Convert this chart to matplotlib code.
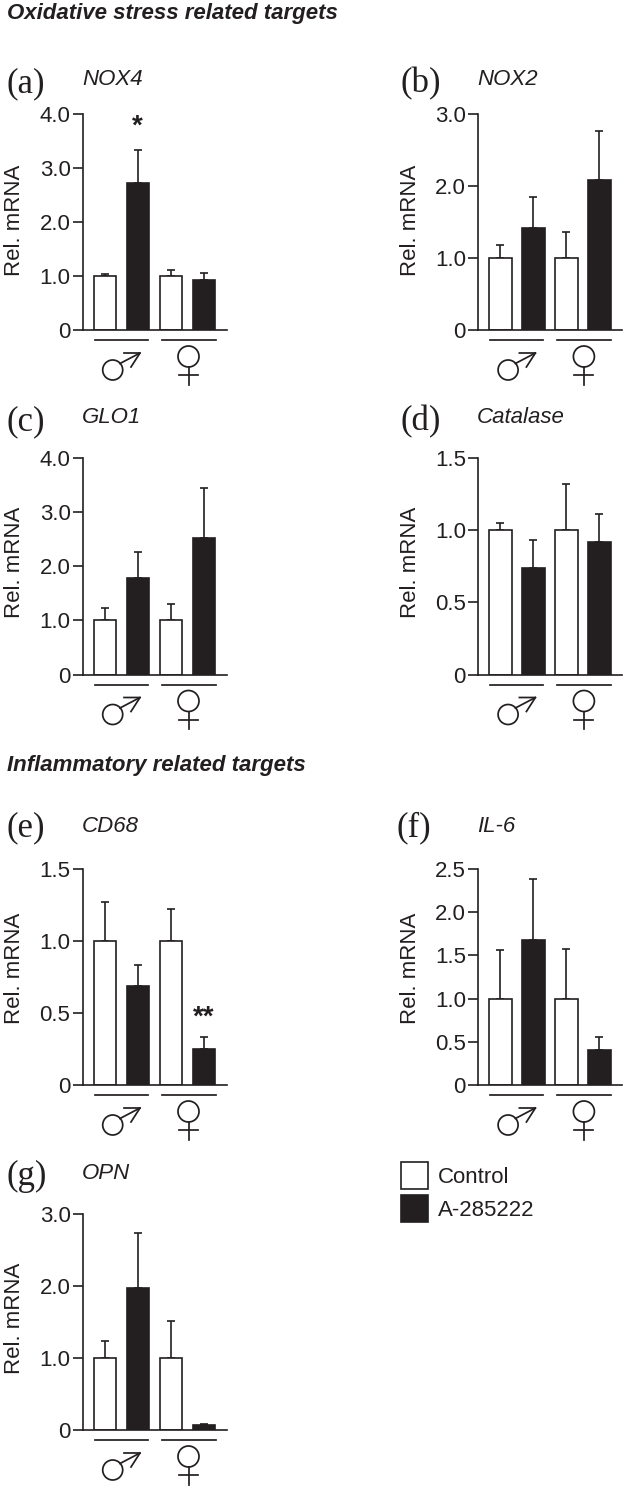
import matplotlib
matplotlib.use("Agg")
import matplotlib.pyplot as plt
from matplotlib.patches import Circle, Patch

W, H = 626, 1488
INK = "#231f20"
plt.rcParams["font.family"] = ["Liberation Sans", "DejaVu Sans"]

# Data
panel_ids = ["(a)", "(b)", "(c)", "(d)", "(e)", "(f)", "(g)"]
genes = ["NOX4", "NOX2", "GLO1", "Catalase", "CD68", "IL-6", "OPN"]
means_a = [1.00, 2.73, 1.00, 0.92]
means_b = [1.00, 1.41, 1.00, 2.08]
means_c = [1.00, 1.78, 1.00, 2.53]
means_d = [1.00, 0.74, 1.00, 0.92]
means_e = [1.00, 0.69, 1.00, 0.25]
means_f = [1.00, 1.68, 1.00, 0.40]
means_g = [1.00, 1.97, 1.00, 0.07]
upper_a = [1.04, 3.33, 1.12, 1.06]
upper_b = [1.18, 1.85, 1.36, 2.77]
upper_c = [1.22, 2.26, 1.30, 3.45]
upper_d = [1.05, 0.93, 1.32, 1.11]
upper_e = [1.27, 0.83, 1.22, 0.33]
upper_f = [1.56, 2.38, 1.57, 0.56]
upper_g = [1.23, 2.74, 1.52, 0.09]
ticks_a = ["0", "1.0", "2.0", "3.0", "4.0"]
ticks_b = ["0", "1.0", "2.0", "3.0"]
ticks_d = ["0", "0.5", "1.0", "1.5"]
ticks_f = ["0", "0.5", "1.0", "1.5", "2.0", "2.5"]
series = ["Control", "A-285222"]

fig = plt.figure(figsize=(W / 100, H / 100), dpi=100, facecolor="white")
deco = fig.add_axes([0, 0, 1, 1], zorder=5)
deco.set_xlim(0, W)
deco.set_ylim(H, 0)
deco.axis("off")

# panel layout: left spine px, baseline px, top tick px
layout = [
    (83, 330, 114, means_a, upper_a, ticks_a),
    (478.4, 330, 114, means_b, upper_b, ticks_b),
    (83, 674.5, 458, means_c, upper_c, ticks_a),
    (478.4, 674.5, 458, means_d, upper_d, ticks_d),
    (83, 1085, 869, means_e, upper_e, ticks_d),
    (478.4, 1085, 869, means_f, upper_f, ticks_f),
    (83, 1430, 1214, means_g, upper_g, ticks_b),
]
label_pos = [(7, 92), (401, 92), (7, 430), (401, 430), (7, 836), (396, 836), (7, 1185)]
gene_pos = [(82, 85), (477, 85), (82, 423), (477, 423), (82, 831.5), (477, 831.5), (82, 1179)]
rel_y = [220, 220, 562, 562, 968, 968, 1318]


def sex_symbols(left, base):
    dx = left - 83
    dy = base - 330
    lw = 1.25
    deco.plot([94.5 + dx, 148 + dx], [340 + dy] * 2, color=INK, lw=lw)
    deco.plot([161.5 + dx, 215.5 + dx], [340 + dy] * 2, color=INK, lw=lw)
    deco.add_patch(Circle((112.7 + dx, 370 + dy), 10, fill=False, ec=INK, lw=lw))
    deco.plot([120 + dx, 140 + dx], [363.5 + dy, 353 + dy], color=INK, lw=lw)
    deco.plot([124 + dx, 140 + dx, 131 + dx], [353 + dy, 353 + dy, 367 + dy], color=INK, lw=lw)
    deco.add_patch(Circle((188.5 + dx, 356.5 + dy), 10.5, fill=False, ec=INK, lw=lw))
    deco.plot([188.5 + dx, 188.5 + dx], [367 + dy, 384.5 + dy], color=INK, lw=lw)
    deco.plot([179 + dx, 198 + dx], [375 + dy, 375 + dy], color=INK, lw=lw)


for i, (left, base, top, means, upper, tl) in enumerate(layout):
    ax = fig.add_axes([left / W, 1 - base / H, 144 / W, (base - top) / H])
    n = len(tl) - 1
    step = float(tl[1])
    ymax = step * n
    ax.set_ylim(0, ymax)
    ax.set_xlim(-0.667, 3.697)
    xs = [0, 1, 2, 3]
    cols = ["white", INK, "white", INK]
    ax.bar(xs, means, width=0.68, color=cols, edgecolor=INK, linewidth=1.2, zorder=2)
    err = [[0] * 4, [u - m for u, m in zip(upper, means)]]
    ax.errorbar(xs, means, yerr=err, fmt="none", ecolor=INK, elinewidth=1.2,
                capsize=2.6, capthick=1.2, zorder=1)
    ax.set_yticks([step * k for k in range(n + 1)])
    ax.set_yticklabels(tl)
    ax.set_xticks([])
    ax.tick_params(axis="y", length=7, width=1.2, color=INK, labelcolor=INK,
                   labelsize=16, pad=2)
    for s in ["top", "right"]:
        ax.spines[s].set_visible(False)
    for s in ["left", "bottom"]:
        ax.spines[s].set_linewidth(1.2)
        ax.spines[s].set_color(INK)
    ax.patch.set_alpha(0)
    deco.text(left - 68.4, rel_y[i], "Rel. mRNA", rotation=90, ha="center",
              va="center", fontsize=16, color=INK)
    deco.text(*label_pos[i], panel_ids[i], family="Liberation Serif", fontsize=25,
              color=INK, ha="left", va="baseline")
    deco.text(*gene_pos[i], genes[i], style="italic", fontsize=16, color=INK,
              ha="left", va="baseline")
    sex_symbols(left, base)

deco.text(137, 134, "*", fontsize=20, weight="bold", color=INK, ha="center", va="baseline")
deco.text(204, 1025, "**", fontsize=20, weight="bold", color=INK, ha="center", va="baseline")
deco.text(7, 19, "Oxidative stress related targets", fontsize=16, weight="bold",
          style="italic", color=INK, ha="left", va="baseline")
deco.text(7, 771, "Inflammatory related targets", fontsize=16, weight="bold",
          style="italic", color=INK, ha="left", va="baseline")

handles = [Patch(facecolor="white", edgecolor=INK, linewidth=1.2, label=series[0]),
           Patch(facecolor=INK, edgecolor=INK, linewidth=1.2, label=series[1])]
deco.legend(handles=handles, loc="upper left", bbox_to_anchor=(401, 1162),
            bbox_transform=deco.transData, frameon=False, fontsize=16, borderpad=0,
            borderaxespad=0, handlelength=1.22, handleheight=1.46, labelspacing=0.29,
            handletextpad=0.45, labelcolor=INK)

fig.savefig("out.png", dpi=100)
